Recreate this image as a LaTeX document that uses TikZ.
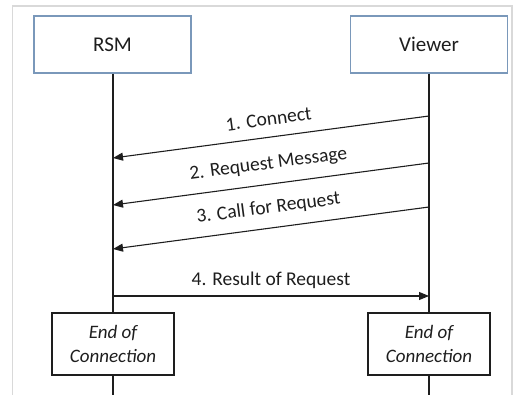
\documentclass[tikz,border=0pt]{standalone}
\usepackage{fontspec}
\setmainfont{Carlito}
\usetikzlibrary{arrows.meta}
\definecolor{framegray}{RGB}{217,217,217}
\definecolor{hdrblue}{RGB}{122,152,186}
\definecolor{ink}{RGB}{30,30,30}
\tikzset{
  hdrbox/.style={draw=hdrblue, line width=1.3pt, minimum width=157pt, minimum height=57pt, inner sep=0pt, text=ink, font=\fontsize{21}{25}\selectfont},
  endbox/.style={draw=ink, line width=1.2pt, minimum width=122pt, minimum height=62pt, inner sep=0pt, align=center, text=ink, font=\fontsize{19}{24}\selectfont\itshape},
  life/.style={draw=ink, line width=1.2pt},
  msg/.style={draw=ink, line width=1.1pt, -{Triangle[length=10pt,width=8pt]}},
  lbl/.style={text=ink, font=\fontsize{19.5}{23}\selectfont, inner sep=0pt},
  framel/.style={draw=framegray, line width=1.2pt}
}
\begin{document}
\begin{tikzpicture}[x=1pt,y=-1pt]
\useasboundingbox (0,0) rectangle (529,395);
% outer frame
\coordinate (fbl) at (12.5,395);
\coordinate (ftl) at (12.5,6);
\coordinate (ftr) at (512,6);
\coordinate (fbr) at (512,395);
\draw[framel] (fbl) -- (ftl) -- (ftr) -- (fbr);
% header boxes
\node[hdrbox] (rsm) at (112.5,44.5) {RSM};
\node[hdrbox] (viewer) at (429,44.5) {Viewer};
% end boxes
\node[endbox] (rend) at (113,344) {End of\\Connection};
\node[endbox] (vend) at (429,344) {End of\\Connection};
% lifeline bottoms
\coordinate (rbot) at (113,395);
\coordinate (vbot) at (429,395);
% lifelines
\draw[life] (rsm.south -| rend.north) -- (rend.north);
\draw[life] (viewer.south -| vend.north) -- (vend.north);
\draw[life] (rend.south) -- (rbot);
\draw[life] (vend.south) -- (vbot);
% message end points
\coordinate (v1) at (429,116);
\coordinate (r1) at (113,158);
\coordinate (v2) at (429,163);
\coordinate (r2) at (113,205);
\coordinate (v3) at (429,207);
\coordinate (r3) at (113,249);
\coordinate (r4) at (113,296);
\coordinate (v4) at (429,296);
% messages
\draw[msg] (v1) -- node[lbl, sloped, above=11pt] {1. Connect} (r1);
\draw[msg] (v2) -- node[lbl, sloped, above=11pt] {2. Request Message} (r2);
\draw[msg] (v3) -- node[lbl, sloped, above=11pt] {3. Call for Request} (r3);
\draw[msg] (r4) -- node[lbl, above=7pt] {4. Result of Request} (v4);
\end{tikzpicture}
\end{document}
